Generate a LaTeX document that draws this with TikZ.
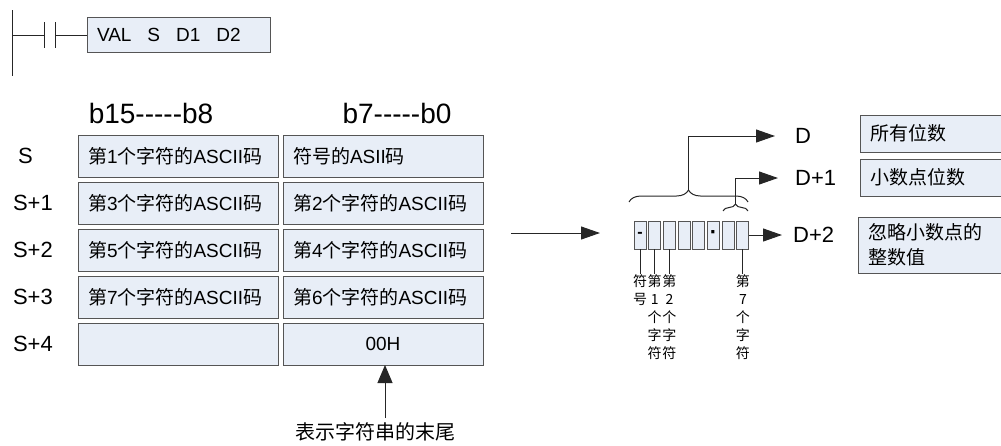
\documentclass[tikz,border=0pt]{standalone}
\usepackage{fontspec}
\setmainfont{Liberation Sans}
\newfontfamily\plain{Liberation Sans}
\newfontfamily\cjk{Noto Sans CJK SC}
\usetikzlibrary{positioning,arrows.meta,decorations.pathreplacing,shadows}
\definecolor{CellFill}{RGB}{232,238,247}
\definecolor{EdgeGray}{RGB}{85,85,85}
\newcommand{\zh}[1]{{\cjk #1}}
\tikzset{
  cell/.style={draw=EdgeGray,fill=CellFill,line width=0.9pt,outer sep=0pt,
               minimum width=200pt,minimum height=42pt,
               text width=180pt,align=left,inner xsep=10pt,inner ysep=0pt,
               font=\fontsize{19}{22}\selectfont,
               drop shadow={shadow xshift=1pt,shadow yshift=-1pt,fill=black!45,opacity=1}},
  ccell/.style={cell,align=center},
  rbox/.style={cell,minimum width=150pt,minimum height=37pt,text width=130pt,
               font=\cjk\fontsize{19}{25}\selectfont},
  ibox/.style={draw=EdgeGray,fill=CellFill,line width=0.9pt,outer sep=0pt,
               minimum width=183pt,minimum height=35pt,text width=163pt,
               align=left,inner xsep=10pt,font=\fontsize{19}{22}\selectfont},
  scell/.style={draw=EdgeGray,fill=CellFill,line width=0.9pt,outer sep=0pt,
                minimum width=12pt,minimum height=28pt,inner sep=0pt,
                font=\bfseries\fontsize{16}{16}\selectfont},
  rowlbl/.style={inner sep=0pt,font=\fontsize{22}{26}\selectfont},
  hdr/.style={inner sep=0pt,font=\plain\fontsize{28}{32}\selectfont},
  dlbl/.style={inner sep=0pt,anchor=west,font=\fontsize{22}{26}\selectfont},
  vlbl/.style={inner sep=0pt,align=center,font=\cjk\fontsize{14}{18}\selectfont},
  wire/.style={line width=1pt,black!85},
  arr/.style={wire,-{Triangle[length=19pt,width=13pt]}},
  brc/.style={wire,decorate},
}

\begin{document}
\begin{tikzpicture}[x=1pt,y=-1pt,node distance=5pt]
  \useasboundingbox (0,0) rectangle (1001,445);
  % ladder rung
  \coordinate (rtop) at (12,10);
  \coordinate (rbot) at (12,76);
  \coordinate (rail) at (12,35);
  \coordinate (ka) at (44,35);
  \coordinate (kb) at (55,35);
  \node[ibox,anchor=west] (ins) at (87,35) {VAL\hspace{16pt}S\hspace{16pt}D1\hspace{16pt}D2};
  \draw[wire] (rtop) -- (rbot);
  \draw[wire] (rail) -- (ka);
  \draw[wire] ([yshift=13pt]ka) -- ([yshift=-13pt]ka);
  \draw[wire] ([yshift=13pt]kb) -- ([yshift=-13pt]kb);
  \draw[wire] (kb) -- (ins);

  % word table
  \node[hdr] (hhi) at (151,113) {b15-----b8};
  \node[hdr] (hlo) at (397,113) {b7-----b0};
  \node[cell,anchor=north west] (l0) at (78,135) {\zh{第}1\zh{个字符的}ASCII\zh{码}};
  \node[cell,right=of l0] (r0) {\zh{符号的}ASII\zh{码}};
  \node[cell,below=of l0] (l1) {\zh{第}3\zh{个字符的}ASCII\zh{码}};
  \node[cell,right=of l1] (r1) {\zh{第}2\zh{个字符的}ASCII\zh{码}};
  \node[cell,below=of l1] (l2) {\zh{第}5\zh{个字符的}ASCII\zh{码}};
  \node[cell,right=of l2] (r2) {\zh{第}4\zh{个字符的}ASCII\zh{码}};
  \node[cell,below=of l2] (l3) {\zh{第}7\zh{个字符的}ASCII\zh{码}};
  \node[cell,right=of l3] (r3) {\zh{第}6\zh{个字符的}ASCII\zh{码}};
  \node[cell,below=of l3] (l4) {};
  \node[ccell,right=of l4] (r4) {00H};
  \node[rowlbl,left=45pt of l0] (s0) {S};
  \node[rowlbl,left=25pt of l1] (s1) {S+1};
  \node[rowlbl,left=25pt of l2] (s2) {S+2};
  \node[rowlbl,left=25pt of l3] (s3) {S+3};
  \node[rowlbl,left=25pt of l4] (s4) {S+4};

  % end marker
  \coordinate (e0) at (385,418);
  \draw[wire,-{Triangle[length=18pt,width=15pt]}] (e0) -- (e0 |- r4.south);
  \node[inner sep=0pt,font=\cjk\fontsize{20}{24}\selectfont] (tail) at (375,432) {表示字符串的末尾};

  % conversion
  \coordinate (m0) at (511,233);
  \coordinate (m1) at (600,233);
  \draw[arr] (m0) -- (m1);

  % digit cells
  \node[scell] (c1) at (640,235) {-};
  \node[scell,right=2.7pt of c1] (c2) {};
  \node[scell,right=2.7pt of c2] (c3) {};
  \node[scell,right=2.7pt of c3] (c4) {};
  \node[scell,right=2.7pt of c4] (c5) {};
  \node[scell,right=2.7pt of c5,font=\bfseries\fontsize{22}{22}\selectfont] (c6) {·};
  \node[scell,right=2.7pt of c6] (c7) {};
  \node[scell,right=2.7pt of c7] (c8) {};
  \node[vlbl,below=25pt of c1] (t1) {符\\号};
  \node[vlbl,below=25pt of c2] (t2) {第\\1\\个\\字\\符};
  \node[vlbl,below=25pt of c3] (t3) {第\\2\\个\\字\\符};
  \node[vlbl,below=25pt of c8] (t8) {第\\7\\个\\字\\符};
  \draw[wire] (c1) -- (t1);
  \draw[wire] (c2) -- (t2);
  \draw[wire] (c3) -- (t3);
  \draw[wire] (c8) -- (t8);

  % braces and outputs
  \coordinate (bl) at (629,202);
  \coordinate (br) at (748,202);
  \draw[brc,decoration={brace,amplitude=12pt}] (bl) -- (br);
  \coordinate (bt) at (688.5,190);
  \coordinate (aD) at (775,136);
  \draw[arr] (bt) |- (aD);
  \node[dlbl,right=20pt of aD] (nD) {D};

  \coordinate (sl) at (723,211);
  \coordinate (sr) at (748,211);
  \draw[brc,decoration={brace,amplitude=7pt}] (sl) -- (sr);
  \coordinate (st) at (735.5,204);
  \coordinate (a1) at (778,178);
  \draw[arr] (st) |- (a1);
  \node[dlbl,right=17pt of a1] (nD1) {D+1};

  \coordinate (a2) at (782,235);
  \draw[arr] (c8) -- (a2);
  \node[dlbl,right=11pt of a2] (nD2) {D+2};

  \node[rbox,anchor=west] (b1) at (860,133.5) {所有位数};
  \node[rbox,anchor=west] (b2) at (860,177.5) {小数点位数};
  \node[rbox,anchor=west,minimum height=56pt] (b3) at (858,245) {忽略小数点的\\整数值};
\end{tikzpicture}
\end{document}
